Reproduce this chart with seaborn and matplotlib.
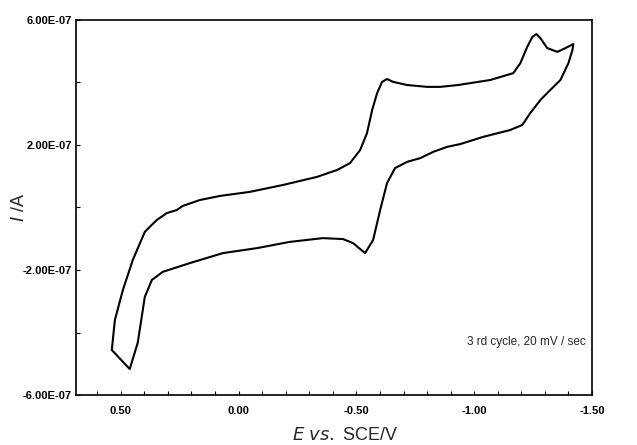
import matplotlib
matplotlib.use("Agg")
import matplotlib.pyplot as plt
import seaborn as sns
import numpy as np
import pandas as pd

# Potential (V vs SCE) along the 3rd cycle, in scan order
potential = [0.538, 0.525, 0.491, 0.449, 0.398, 0.377, 0.347, 0.305, 0.262, 0.237,
             0.164, 0.079, -0.048, -0.188, -0.333, -0.418, -0.473, -0.516, -0.545, -0.567,
             -0.588, -0.609, -0.630, -0.656, -0.715, -0.800, -0.856, -0.932, -0.983, -1.068,
             -1.166, -1.196, -1.225, -1.247, -1.264, -1.281, -1.310, -1.353, -1.387, -1.421,
             -1.417, -1.400, -1.366, -1.323, -1.281, -1.238, -1.204, -1.153, -1.038, -0.941,
             -0.885, -0.826, -0.771, -0.715, -0.664, -0.630, -0.601, -0.571, -0.537, -0.486,
             -0.443, -0.358, -0.218, -0.078, 0.067, 0.207, 0.322, 0.368, 0.398, 0.428,
             0.462, 0.538]
# Current in units of 1e-7 A
current_e7 = [-4.56, -3.60, -2.64, -1.68, -0.78, -0.62, -0.40, -0.18, -0.08, 0.05,
              0.24, 0.37, 0.50, 0.72, 0.98, 1.20, 1.42, 1.84, 2.38, 3.12,
              3.66, 4.02, 4.11, 4.02, 3.92, 3.86, 3.86, 3.92, 3.98, 4.08,
              4.30, 4.62, 5.14, 5.46, 5.55, 5.42, 5.10, 4.98, 5.10, 5.23,
              5.04, 4.62, 4.08, 3.76, 3.44, 3.02, 2.64, 2.48, 2.26, 2.03,
              1.94, 1.78, 1.58, 1.46, 1.26, 0.78, -0.08, -1.04, -1.46, -1.14,
              -1.01, -0.98, -1.10, -1.30, -1.46, -1.78, -2.06, -2.32, -2.86, -4.33,
              -5.17, -4.56]

x_ticks = [0.5, 0.0, -0.5, -1.0, -1.5]
x_ticklabels = ["0.50", "0.00", "-0.50", "-1.00", "-1.50"]
y_ticks = [6e-7, 4e-7, 2e-7, 0.0, -2e-7, -4e-7, -6e-7]
y_ticklabels = ["6.00E-07", "", "2.00E-07", "", "-2.00E-07", "", "-6.00E-07"]

sns.set_style("white")
plt.rcParams['font.family'] = ['Liberation Sans', 'DejaVu Sans']

df = pd.DataFrame({"E": potential, "I": np.array(current_e7) * 1e-7,
                   "order": np.arange(len(potential))})

fig = plt.figure(figsize=(6.37, 4.45), dpi=100)
ax = fig.add_axes([76/637, 1 - 395/445, (592-76)/637, (395-20)/445])
sns.lineplot(data=df, x="E", y="I", sort=False, estimator=None, color="black",
             linewidth=1.5, ax=ax)

ax.set_xlim(0.69, -1.5)
ax.set_ylim(-6e-7, 6e-7)
ax.set_xticks(x_ticks)
ax.set_xticklabels(x_ticklabels, fontsize=8, fontweight="bold")
ax.set_xticks(np.arange(-1.5, 0.69, 0.1), minor=True)
ax.set_yticks(y_ticks)
ax.set_yticklabels(y_ticklabels, fontsize=8, fontweight="bold")
ax.tick_params(axis="both", which="both", direction="in", length=3, width=0.8,
               color="black", labelcolor="black", bottom=True, left=True)
ax.tick_params(axis="x", which="major", pad=8)
ax.tick_params(axis="y", which="major", pad=3)
for s in ax.spines.values():
    s.set_color("black")
    s.set_linewidth(1.2)

ax.set_xlabel(r"$E$ $vs.$ SCE/V", fontsize=13)
ax.xaxis.set_label_coords(0.521, -0.085)
ax.set_ylabel(r"$I$ /A", fontsize=13)
ax.yaxis.set_label_coords(-0.093, 0.5)
ax.text(0.988, 0.142, "3 rd cycle, 20 mV / sec", transform=ax.transAxes,
        ha="right", va="center", fontsize=8.5)

fig.savefig("out.png", dpi=100)
